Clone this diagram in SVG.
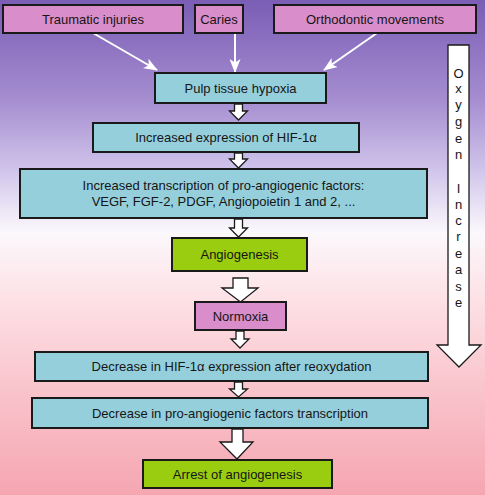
<svg xmlns="http://www.w3.org/2000/svg" width="485" height="495" viewBox="0 0 485 495">
<defs>
<linearGradient id="bg" x1="0" y1="0" x2="0" y2="1">
<stop offset="0" stop-color="#7a5db5"/>
<stop offset="0.2" stop-color="#a58dd0"/>
<stop offset="0.34" stop-color="#cfc3ea"/>
<stop offset="0.47" stop-color="#fbf8fc"/>
<stop offset="0.6" stop-color="#fde2e6"/>
<stop offset="0.8" stop-color="#f9c2ca"/>
<stop offset="1" stop-color="#f5a6b1"/>
</linearGradient>
<marker id="ah" viewBox="0 0 14 11" refX="13" refY="5.5" markerWidth="14" markerHeight="11" markerUnits="userSpaceOnUse" orient="auto">
<path d="M0,0 L14,5.5 L0,11 L3.5,5.5 Z" fill="#fff"/>
</marker>
<style>
.box{stroke:#1a1a1a;stroke-width:2}
.pink{fill:#d98dca}
.blue{fill:#95cfdc}
.green{fill:#9acd10}
.t{font-family:"Liberation Sans",Arial,sans-serif;font-size:13px;fill:#151515;text-anchor:middle}
.ox{font-family:"Liberation Sans",Arial,sans-serif;font-size:13px;fill:#151515;text-anchor:middle}
.ba{fill:#fff;stroke:#1a1a1a;stroke-width:1.3;stroke-linejoin:miter}
.wl{stroke:#fff;stroke-width:2;fill:none}
</style>
</defs>
<rect width="485" height="495" fill="url(#bg)"/>

<g id="connectors">
<line class="wl" x1="93" y1="33" x2="157" y2="70" marker-end="url(#ah)"/>
<line class="wl" x1="235" y1="33" x2="235" y2="72" marker-end="url(#ah)"/>
<line class="wl" x1="377" y1="33" x2="324" y2="70" marker-end="url(#ah)"/>
<polygon class="ba" points="234.5,104 242.5,104 242.5,111 247.5,111 238.5,120 229.5,111 234.5,111"/>
<polygon class="ba" points="234.5,153 242.5,153 242.5,159 247.5,159 238.5,168 229.5,159 234.5,159"/>
<polygon class="ba" points="234.5,219 242.5,219 242.5,228 247.5,228 238.5,237 229.5,228 234.5,228"/>
<polygon class="ba" points="233,278 248,278 248,288 258,288 240.5,302 222,288 233,288"/>
<polygon class="ba" points="236,331 244,331 244,339 249,339 240,348 231,339 236,339"/>
<polygon class="ba" points="234.5,382 242.5,382 242.5,389 247.5,389 238.5,397 229.5,389 234.5,389"/>
<polygon class="ba" points="232,429 243,429 243,442 253,442 237,459 220,442 232,442"/>
</g>

<g id="oxygen">
<polygon class="ba" points="448,45 469,45 469,345 481,345 459,367 437,345 448,345" stroke-width="1.6"/>
<text class="ox" x="458.5" y="78">O</text>
<text class="ox" x="458.5" y="93">x</text>
<text class="ox" x="458.5" y="109">y</text>
<text class="ox" x="458.5" y="126">g</text>
<text class="ox" x="458.5" y="143">e</text>
<text class="ox" x="458.5" y="159">n</text>
<text class="ox" x="458.5" y="193">I</text>
<text class="ox" x="458.5" y="209">n</text>
<text class="ox" x="458.5" y="225">c</text>
<text class="ox" x="458.5" y="241">r</text>
<text class="ox" x="458.5" y="258">e</text>
<text class="ox" x="458.5" y="274">a</text>
<text class="ox" x="458.5" y="291">s</text>
<text class="ox" x="458.5" y="307">e</text>
</g>

<g id="traumatic">
<rect class="box pink" x="3" y="5" width="180" height="28"/>
<text class="t" x="93" y="24">Traumatic injuries</text>
</g>
<g id="caries">
<rect class="box pink" x="195" y="5" width="48" height="28"/>
<text class="t" x="219" y="24">Caries</text>
</g>
<g id="orthodontic">
<rect class="box pink" x="274" y="5" width="202" height="28"/>
<text class="t" x="375" y="24">Orthodontic movements</text>
</g>
<g id="hypoxia">
<rect class="box blue" x="155" y="73" width="171" height="30"/>
<text class="t" x="240.5" y="93">Pulp tissue hypoxia</text>
</g>
<g id="hif">
<rect class="box blue" x="93" y="123" width="266" height="29"/>
<text class="t" x="226" y="142">Increased expression of HIF-1α</text>
</g>
<g id="transcription">
<rect class="box blue" x="20" y="169" width="407" height="49"/>
<text class="t" x="223.5" y="190">Increased transcription of pro-angiogenic factors:</text>
<text class="t" x="223.5" y="206">VEGF, FGF-2, PDGF, Angiopoietin 1 and 2, ...</text>
</g>
<g id="angiogenesis">
<rect class="box green" x="172" y="238" width="135" height="33"/>
<text class="t" x="239.5" y="259">Angiogenesis</text>
</g>
<g id="normoxia">
<rect class="box pink" x="195" y="302" width="91" height="28"/>
<text class="t" x="240.5" y="321">Normoxia</text>
</g>
<g id="decrease-hif">
<rect class="box blue" x="35" y="352" width="393" height="29"/>
<text class="t" x="231.5" y="371">Decrease in HIF-1α expression after reoxydation</text>
</g>
<g id="decrease-factors">
<rect class="box blue" x="32" y="398" width="396" height="30"/>
<text class="t" x="230" y="418">Decrease in pro-angiogenic factors transcription</text>
</g>
<g id="arrest">
<rect class="box green" x="143" y="460" width="189" height="28"/>
<text class="t" x="237.5" y="479">Arrest of angiogenesis</text>
</g>
</svg>
